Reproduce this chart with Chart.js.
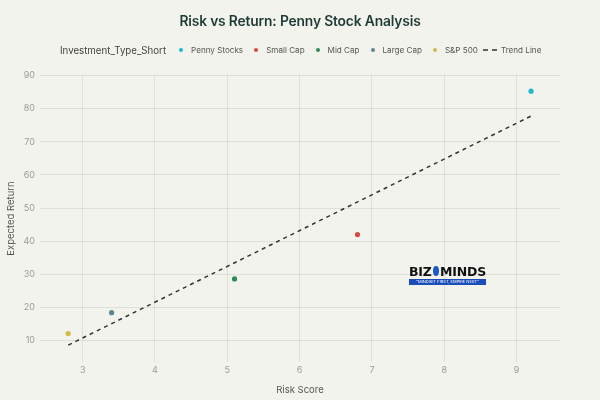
<!DOCTYPE html>
<html><head><meta charset="utf-8">
<script src="https://cdn.jsdelivr.net/npm/chart.js@4"></script>
<style>
html,body{margin:0;padding:0;background:#F3F3EE;}
#wrap{position:relative;width:600px;height:400px;overflow:hidden;background:#F3F3EE;font-family:Inter,"Open Sans",sans-serif;}
canvas{position:absolute;left:0;top:0;}
#title{position:absolute;left:0;width:600px;top:13px;text-align:center;font-size:13.8px;font-weight:600;color:#1E3B36;letter-spacing:-0.15px;}
#legend{position:absolute;left:60px;top:44px;height:12px;font-size:8.1px;color:#555;white-space:nowrap;display:flex;align-items:center;}
#legend .lt{font-size:9.7px;color:#444;}
#legend .dot{display:inline-block;width:4px;height:4px;border-radius:50%;margin:0 8px 0 11px;}
#legend .dot.first{margin-left:13px;}
#logo{position:absolute;left:409px;top:264px;width:77px;}
#logo .name{font:800 12.5px "DejaVu Sans",sans-serif;color:#111;letter-spacing:-0.2px;display:flex;align-items:center;height:14px;}
#logo .bulb{display:inline-block;width:10px;height:10px;border-radius:50%;background:#1E58C8;margin:0 1px;}
#logo .bar{height:6px;background:#1B4DBA;color:#fff;font-size:4px;line-height:6px;text-align:center;margin-top:1px;}
</style></head>
<body><div id="wrap">
<canvas id="c" width="600" height="400"></canvas>
<div id="title">Risk vs Return: Penny Stock Analysis</div>
<div id="legend"></div>
<div id="logo"><div class="name">BIZ<span class="bulb"></span>MINDS</div><div class="bar">"MINDSET FIRST, EMPIRE NEXT"</div></div>
</div>
<script>
const categories = ["Penny Stocks","Small Cap","Mid Cap","Large Cap","S&P 500"];
const riskScores = [9.2, 6.8, 5.1, 3.4, 2.8];
const expectedReturns = [85.3, 42.0, 28.6, 18.4, 12.1];
const colors = ["#1FB8CD","#DB4545","#2E8B57","#5D878F","#D2BA4C"];
const trendX = [2.8, 9.2];
const trendY = [8.6, 77.8];
const xTicks = [3,4,5,6,7,8,9];
const yTicks = [10,20,30,40,50,60,70,80,90];
const legendTitle = "Investment_Type_Short";
const trendLabel = "Trend Line";
const xTitle = "Risk Score";
const yTitle = "Expected Return";

const datasets = categories.map((c,i)=>({
  label:c, type:'scatter',
  data:[{x:riskScores[i], y:expectedReturns[i]}],
  backgroundColor:colors[i], borderColor:colors[i],
  pointRadius:2.6, pointBorderWidth:0
}));
datasets.push({
  label:trendLabel, type:'line',
  data:trendX.map((x,i)=>({x:x,y:trendY[i]})),
  borderColor:'#333', borderWidth:1.5, borderDash:[4,4],
  pointRadius:0, fill:false, order:-1
});

// legend
const lg = document.getElementById('legend');
let h = '<span class="lt">'+legendTitle+'</span>';
categories.forEach((c,i)=>{ h += '<span class="dot'+(i===0?' first':'')+'" style="background:'+colors[i]+'"></span><span class="it">'+c.replace('&','&amp;')+'</span>'; });
h += '<svg width="14" height="4" style="margin:0 4px 0 5px"><line x1="0" y1="2" x2="14" y2="2" stroke="#333" stroke-width="1.5" stroke-dasharray="5,4"/></svg><span class="it">'+trendLabel+'</span>';
lg.innerHTML = h;

const fam = 'Inter, "Open Sans", sans-serif';
new Chart(document.getElementById('c'), {
  type:'scatter',
  data:{datasets:datasets},
  options:{
    responsive:false, animation:false, devicePixelRatio:1,
    layout:{padding:{top:75,right:40,bottom:0,left:0}},
    plugins:{legend:{display:false}, tooltip:{enabled:false}, title:{display:false}},
    scales:{
      x:{type:'linear', min:2.41, max:9.60,
        afterBuildTicks:s=>{s.ticks = xTicks.map(v=>({value:v}));},
        afterFit:s=>{s.height=38;},
        grid:{color:'rgba(0,0,0,0.08)', drawTicks:false},
        border:{display:false},
        ticks:{font:{family:fam,size:9}, color:'#9a9a9a', padding:3},
        title:{display:true, text:xTitle, color:'#555', font:{family:fam, size:9.5}, padding:{top:0,bottom:4}}
      },
      y:{type:'linear', min:3.5, max:90.2,
        afterBuildTicks:s=>{s.ticks = yTicks.map(v=>({value:v}));},
        afterFit:s=>{s.width=40;},
        grid:{color:'rgba(0,0,0,0.08)', drawTicks:false},
        border:{display:false},
        ticks:{font:{family:fam,size:9}, color:'#9a9a9a', padding:5},
        title:{display:true, text:yTitle, color:'#555', font:{family:fam, size:9.5}, padding:{top:5,bottom:0}}
      }
    }
  }
});
</script>
</body></html>
